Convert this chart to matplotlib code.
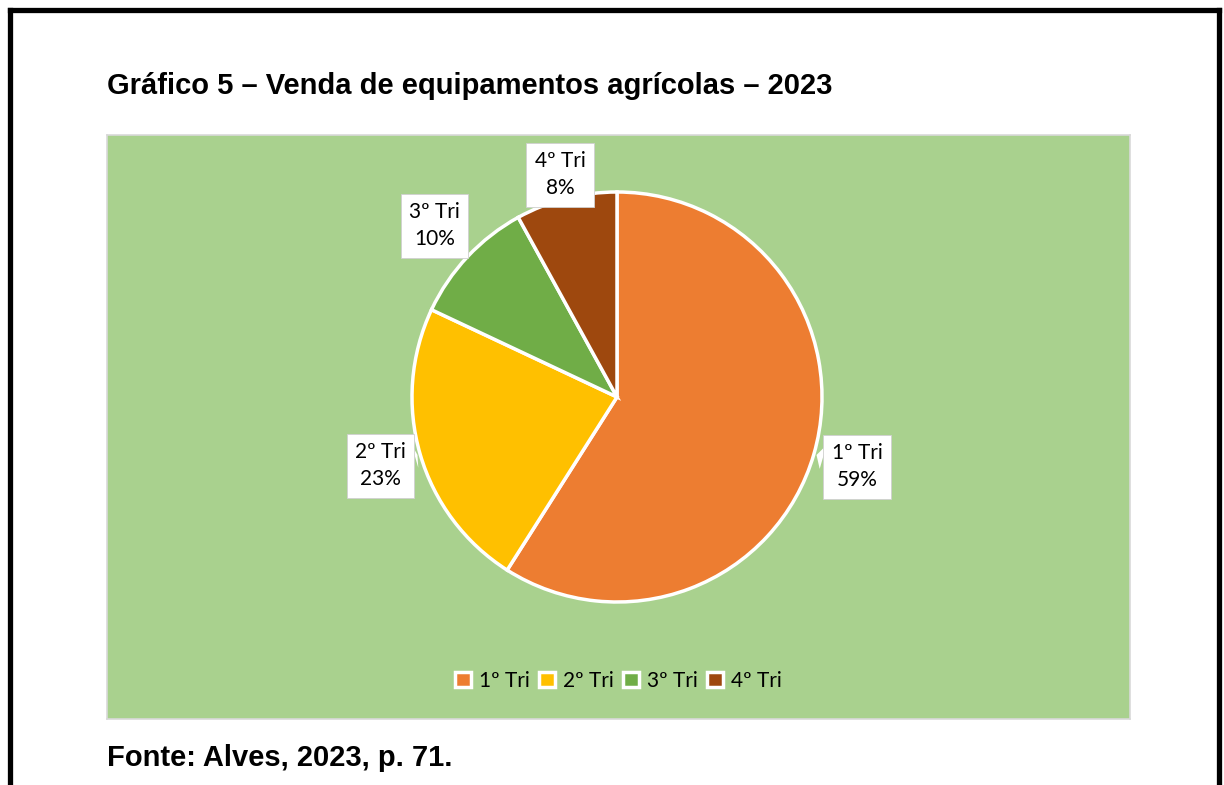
import numpy as np
import matplotlib.pyplot as plt
from matplotlib.lines import Line2D

# dados
trimestres = ["1º Tri", "2º Tri", "3º Tri", "4º Tri"]
vendas_pct = [59, 23, 10, 8]
cores = ["#ED7D31", "#FFC000", "#70AD47", "#9E480E"]

titulo = "Gráfico 5 – Venda de equipamentos agrícolas – 2023"
fonte = "Fonte: Alves, 2023, p. 71."

W, H = 1224, 785
fig = plt.figure(figsize=(W / 100, H / 100), dpi=100)
fig.patch.set_facecolor("white")

# moldura preta (topo, esquerda, direita)
lw = 3.8
fig.add_artist(Line2D([10 / W, 10 / W], [0, 1 - 10 / H], color="black", lw=lw))
fig.add_artist(Line2D([1219 / W, 1219 / W], [0, 1 - 10 / H], color="black", lw=lw))
fig.add_artist(Line2D([10 / W, 1219 / W], [1 - 10 / H, 1 - 10 / H], color="black", lw=lw,
                      solid_capstyle="projecting"))

fig.text(107 / W, 1 - 86 / H, titulo, fontsize=21, fontweight="bold",
         family="Liberation Sans", va="center", ha="left")
fig.text(107 / W, 1 - 758 / H, fonte, fontsize=21, fontweight="bold",
         family="Liberation Sans", va="center", ha="left")

# area do grafico
x0, x1, y0, y1 = 107, 1130, 135, 719
ax = fig.add_axes([x0 / W, 1 - y1 / H, (x1 - x0) / W, (y1 - y0) / H])
ax.set_facecolor("#A9D18E")
for s in ax.spines.values():
    s.set_color("#D9D9D9")
    s.set_linewidth(1.2)
ax.set_xticks([])
ax.set_yticks([])

cx, cy, R = 617, 397, 205

wedges, _ = ax.pie(vendas_pct, colors=cores, startangle=90, counterclock=False,
                   radius=1.0, center=(0, 0), frame=True,
                   wedgeprops=dict(edgecolor="white", linewidth=2.5))
ax.set_xlim((x0 - cx) / R, (x1 - cx) / R)
ax.set_ylim(-(y1 - cy) / R, (cy - y0) / R)
ax.set_aspect("equal")

txt_font = "Lato"
label_r = [1.22, 1.2, 1.22, 1.12]
for w, nome, v, lr in zip(wedges, trimestres, vendas_pct, label_r):
    ang = np.deg2rad((w.theta1 + w.theta2) / 2)
    px, py = np.cos(ang), np.sin(ang)
    ax.annotate(f"{nome}\n{v}%", xy=(px, py), xytext=(px * lr, py * lr),
                ha="center", va="center", fontsize=15, family=txt_font,
                linespacing=1.45,
                bbox=dict(boxstyle="square,pad=0.4", fc="white", ec="#D0D0D0", lw=0.6),
                arrowprops=dict(arrowstyle="wedge,tail_width=1.2", fc="white", ec="none",
                                shrinkA=0, shrinkB=2))

ax.legend(wedges, trimestres, loc="center", bbox_to_anchor=(0.5, (719 - 681) / (y1 - y0)),
          ncol=4, frameon=False, prop=dict(family=txt_font, size=15),
          handlelength=0.75, handleheight=0.75, handletextpad=0.4, columnspacing=0.45)

fig.savefig("out.png", dpi=100)
